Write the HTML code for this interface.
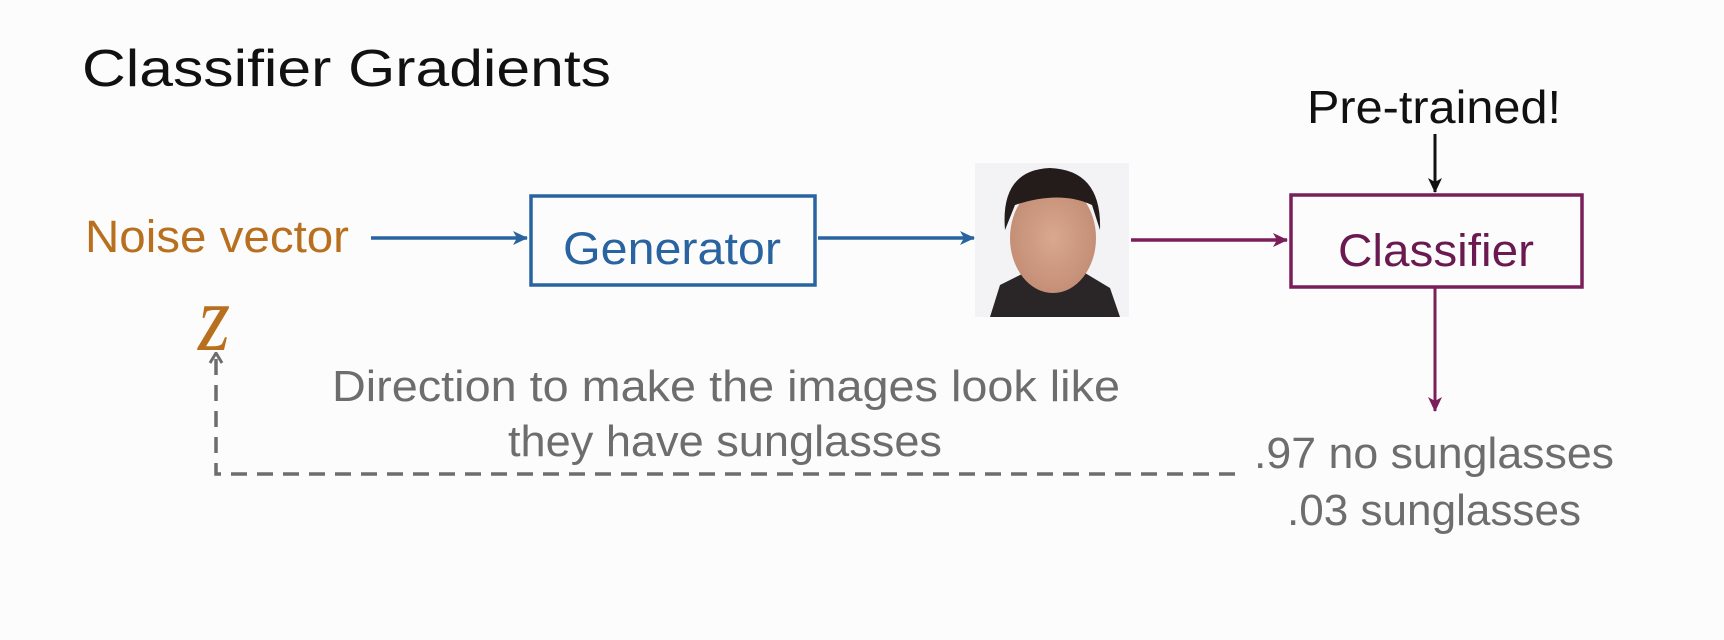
<!DOCTYPE html>
<html><head><meta charset="utf-8"><style>html,body{margin:0;padding:0;background:#fcfcfc}svg{display:block}</style></head>
<body>
<svg width="1724" height="640" viewBox="0 0 1724 640" xmlns="http://www.w3.org/2000/svg" font-family="Liberation Sans, sans-serif">
<defs>
<marker id="ab" markerWidth="16" markerHeight="16" refX="14" refY="8" orient="auto" markerUnits="userSpaceOnUse"><path d="M0,1 L15,8 L0,15 L4,8z" fill="#2a64a0"/></marker>
<marker id="ap" markerWidth="16" markerHeight="16" refX="14" refY="8" orient="auto" markerUnits="userSpaceOnUse"><path d="M0,1 L15,8 L0,15 L4,8z" fill="#7a1f5a"/></marker>
<marker id="ak" markerWidth="16" markerHeight="16" refX="14" refY="8" orient="auto" markerUnits="userSpaceOnUse"><path d="M0,1 L15,8 L0,15 L4,8z" fill="#111"/></marker>
<marker id="ag" markerWidth="16" markerHeight="16" refX="8" refY="2" orient="0" markerUnits="userSpaceOnUse"><path d="M2,11 L8,1 L14,11" fill="none" stroke="#6d6d6d" stroke-width="3"/></marker>
<radialGradient id="fg" cx="50%" cy="50%" r="50%"><stop offset="0" stop-color="#d9a88f"/><stop offset="1" stop-color="#c48f76"/></radialGradient>
</defs>
<text x="82" y="86" font-size="52" fill="#111" textLength="529" lengthAdjust="spacingAndGlyphs">Classifier Gradients</text>
<text x="1307" y="123" font-size="46" fill="#111" textLength="254" lengthAdjust="spacingAndGlyphs">Pre-trained!</text>
<line x1="1435" y1="134" x2="1435" y2="192" stroke="#111" stroke-width="3" marker-end="url(#ak)"/>
<text x="85" y="252" font-size="45" fill="#b8701f" textLength="264" lengthAdjust="spacingAndGlyphs">Noise vector</text>
<line x1="371" y1="238" x2="527" y2="238" stroke="#2a64a0" stroke-width="3.5" marker-end="url(#ab)"/>
<rect x="531" y="196" width="284" height="89" fill="none" stroke="#2a64a0" stroke-width="3.5"/>
<text x="672" y="264" font-size="45" fill="#2a64a0" text-anchor="middle" textLength="218" lengthAdjust="spacingAndGlyphs">Generator</text>
<line x1="818" y1="238" x2="974" y2="238" stroke="#2a64a0" stroke-width="3.5" marker-end="url(#ab)"/>
<rect x="975" y="163" width="154" height="154" fill="#f3f2f4"/>
<path d="M990,317 L1000,285 L1030,270 L1080,270 L1110,288 L1120,317z" fill="#2a2628"/>
<ellipse cx="1053" cy="238" rx="43" ry="55" fill="url(#fg)"/>
<path d="M1005,230 Q1000,170 1050,168 Q1102,170 1100,230 L1092,205 Q1060,190 1015,205z" fill="#241c1a"/>
<line x1="1131" y1="240" x2="1287" y2="240" stroke="#7a1f5a" stroke-width="3.5" marker-end="url(#ap)"/>
<rect x="1291" y="195" width="291" height="92" fill="none" stroke="#7a1f5a" stroke-width="3.5"/>
<text x="1436" y="266" font-size="45" fill="#6a1a50" text-anchor="middle" textLength="196" lengthAdjust="spacingAndGlyphs">Classifier</text>
<line x1="1435" y1="288" x2="1435" y2="411" stroke="#7a1f5a" stroke-width="3" marker-end="url(#ap)"/>
<text x="1254" y="468" font-size="44" fill="#6d6d6d" textLength="360" lengthAdjust="spacingAndGlyphs">.97 no sunglasses</text>
<text x="1287" y="525" font-size="44" fill="#6d6d6d" textLength="294" lengthAdjust="spacingAndGlyphs">.03 sunglasses</text>
<text x="332" y="401" font-size="44" fill="#6d6d6d" textLength="788" lengthAdjust="spacingAndGlyphs">Direction to make the images look like</text>
<text x="508" y="456" font-size="44" fill="#6d6d6d" textLength="434" lengthAdjust="spacingAndGlyphs">they have sunglasses</text>
<path d="M1235,474 L216,474 L216,354" fill="none" stroke="#6d6d6d" stroke-width="3.5" stroke-dasharray="16,10" marker-end="url(#ag)"/>
<g transform="translate(214,350) scale(1.25,1.45)"><text x="0" y="0" font-size="66" fill="#b8701f" font-family="Liberation Serif, serif" font-style="italic" text-anchor="middle">z</text></g>
</svg>
</body></html>
